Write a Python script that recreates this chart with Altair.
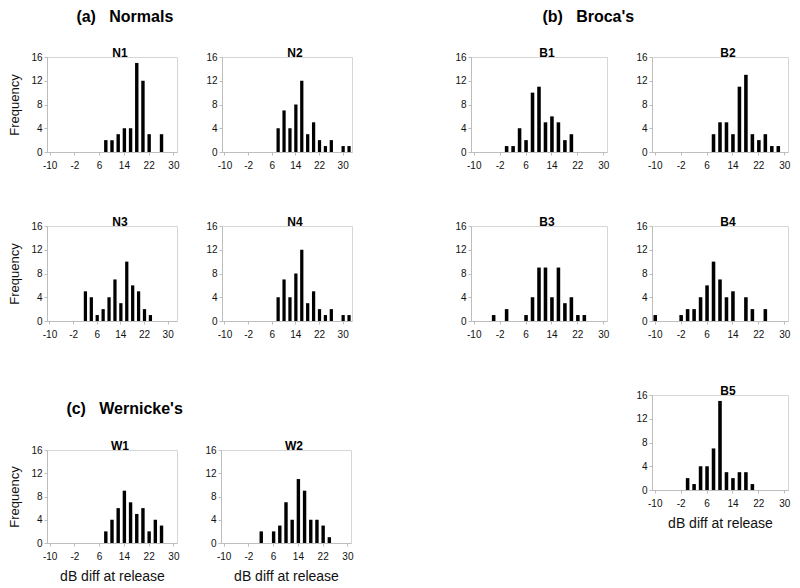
import altair as alt
import pandas as pd

# ---- data: bin centre (dB) and frequency for each panel ----
N1_bins = [8, 10, 12, 14, 16, 18, 20, 22, 26]
N1_counts = [2, 2, 3, 4, 4, 15, 12, 3, 3]
N2_bins = [8, 10, 12, 14, 16, 18, 20, 22, 24, 26, 30, 32]
N2_counts = [4, 7, 4, 8, 12, 3, 5, 2, 1, 2, 1, 1]
N3_bins = [2, 4, 6, 8, 10, 12, 14, 16, 18, 20, 22, 24]
N3_counts = [5, 4, 1, 2, 4, 7, 3, 10, 6, 5, 2, 1]
N4_bins = [8, 10, 12, 14, 16, 18, 20, 22, 24, 26, 30, 32]
N4_counts = [4, 7, 4, 8, 12, 3, 5, 2, 1, 2, 1, 1]
B1_bins = [0, 2, 4, 6, 8, 10, 12, 14, 16, 18, 20]
B1_counts = [1, 1, 4, 2, 10, 11, 5, 6, 5, 2, 3]
B2_bins = [8, 10, 12, 14, 16, 18, 20, 22, 24, 26, 28]
B2_counts = [3, 5, 5, 3, 11, 13, 3, 2, 3, 1, 1]
B3_bins = [-4, 0, 6, 8, 10, 12, 14, 16, 18, 20, 22, 24]
B3_counts = [1, 2, 1, 4, 9, 9, 4, 9, 3, 4, 1, 1]
B4_bins = [-10, -2, 0, 2, 4, 6, 8, 10, 12, 14, 18, 20, 24]
B4_counts = [1, 1, 2, 2, 4, 6, 10, 7, 4, 5, 4, 2, 2]
B5_bins = [0, 2, 4, 6, 8, 10, 12, 14, 16, 18, 20]
B5_counts = [2, 1, 4, 4, 7, 15, 3, 2, 3, 3, 1]
W1_bins = [8, 10, 12, 14, 16, 18, 20, 22, 24, 26]
W1_counts = [2, 4, 6, 9, 7, 5, 6, 2, 4, 3]
W2_bins = [2, 6, 8, 10, 12, 14, 16, 18, 20, 22, 24]
W2_counts = [2, 2, 3, 7, 4, 11, 9, 4, 4, 3, 1]

x_tick_labels = [-10, -2, 6, 14, 22, 30]
y_tick_labels = [0, 4, 8, 12, 16]

FONT = "Liberation Sans"


def panel(name, bins, counts, xmax, w, h, ytitle=False, xtitle=False):
    df = pd.DataFrame({"bin": bins, "count": counts})
    dom = list(range(-10, xmax + 1, 2))
    xaxis = dict(values=x_tick_labels, labelAngle=0, tickSize=3, labelPadding=5,
                 titleFontSize=14, titleFontWeight="normal", titlePadding=8)
    yaxis = dict(values=y_tick_labels, grid=False, tickSize=3, labelPadding=2,
                 titleFontSize=13, titleFontWeight="normal", titlePadding=9)
    xaxis["title"] = "dB diff at release" if xtitle else None
    yaxis["title"] = "Frequency" if ytitle else None
    return alt.Chart(df).mark_bar(color="black").encode(
        x=alt.X("bin:O",
                scale=alt.Scale(domain=dom, paddingInner=0.45, paddingOuter=0.225),
                axis=alt.Axis(**xaxis)),
        y=alt.Y("count:Q", scale=alt.Scale(domain=[0, 16]), axis=alt.Axis(**yaxis)),
    ).properties(
        width=w, height=h,
        title=alt.TitleParams(name, fontSize=12, fontWeight="bold", offset=-8,
                              anchor="middle", frame="group", dx=8, font=FONT),
    )


LW, RW, H, HW = 130, 136, 95, 93

n1 = panel("N1", N1_bins, N1_counts, 30, LW, H, ytitle=True)
n2 = panel("N2", N2_bins, N2_counts, 32, LW, H)
n3 = panel("N3", N3_bins, N3_counts, 32, LW, H, ytitle=True)
n4 = panel("N4", N4_bins, N4_counts, 32, LW, H)
w1 = panel("W1", W1_bins, W1_counts, 30, LW, HW, ytitle=True, xtitle=True)
w2 = panel("W2", W2_bins, W2_counts, 30, LW, HW, xtitle=True)
b1 = panel("B1", B1_bins, B1_counts, 30, RW, H)
b2 = panel("B2", B2_bins, B2_counts, 30, RW, H)
b3 = panel("B3", B3_bins, B3_counts, 30, RW, H)
b4 = panel("B4", B4_bins, B4_counts, 30, RW, H)
b5 = panel("B5", B5_bins, B5_counts, 30, RW, H, xtitle=True)


def heading(text, dx, offset):
    return alt.TitleParams(text, anchor="start", dx=dx, offset=offset,
                           fontSize=16, fontWeight="bold", font=FONT)


SP = "\u00a0\u00a0\u00a0"

col_a = alt.vconcat(n1, n3, spacing=74, bounds="flush")
col_b = alt.vconcat(n2, n4, spacing=74, bounds="flush")
normals = alt.hconcat(col_a, col_b, spacing=25,
                      title=heading("(a)" + SP + "Normals", 68, 22))
wern = alt.hconcat(w1, w2, spacing=44, bounds="flush",
                   title=heading("(c)" + SP + "Wernicke's", 58, 23))
left = alt.vconcat(normals, wern, spacing=60)

col_c = alt.vconcat(b1, b3, spacing=74, bounds="flush")
col_d = alt.vconcat(b2, b4, b5, spacing=74, bounds="flush")
broca = alt.hconcat(col_c, col_d, spacing=25,
                    title=heading("(b)" + SP + "Broca's", 88, 22))

chart = alt.hconcat(left, broca, spacing=100).properties(
    padding=0
).configure_axis(
    labelFont=FONT, titleFont=FONT, labelFontSize=10, labelColor="#111111",
    titleColor="#111111", domainColor="#bdbdbd", tickColor="#bdbdbd",
).configure_view(
    stroke="#d6d6d6", strokeWidth=1
).configure_title(font=FONT, color="#000000")

chart.save("out.html", embed_options={"renderer": "svg", "actions": False})
